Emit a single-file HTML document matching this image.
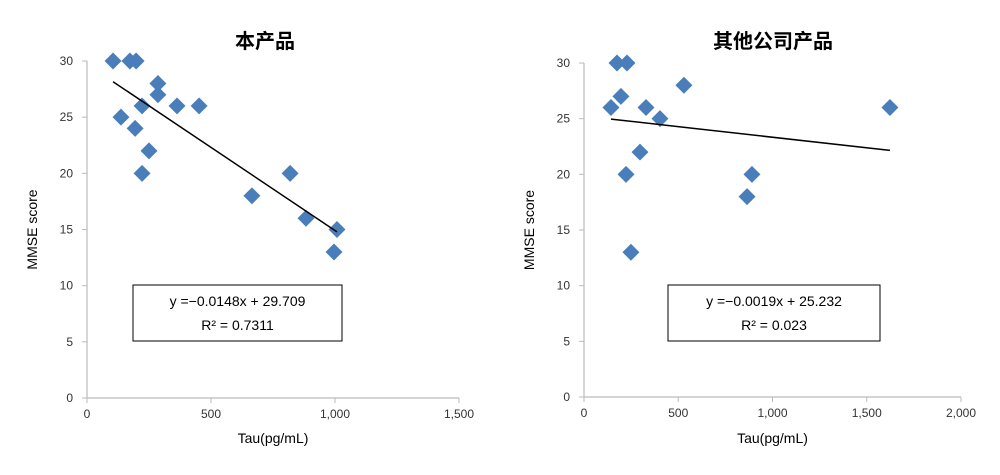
<!DOCTYPE html>
<html><head><meta charset="utf-8"><style>
body{margin:0;background:#fff;width:1000px;height:470px;overflow:hidden}
text{font-family:"Liberation Sans","Noto Sans CJK SC",sans-serif}
</style></head><body>
<svg id="s" width="1000" height="470"></svg>
<script>
const leftX=[105,173,198,137,194,222,286,286,250,222,363,452,665,819,883,1008,996];
const leftY=[30,30,30,25,24,26,28,27,22,20,26,26,18,20,16,15,13];
const rightX=[175,228,196,143,329,530,403,297,223,249,891,865,1623];
const rightY=[30,30,27,26,26,28,25,22,20,13,20,18,26];
const leftXTicks=[0,500,1000,1500];
const leftXLabels=["0","500","1,000","1,500"];
const rightXTicks=[0,500,1000,1500,2000];
const rightXLabels=["0","500","1,000","1,500","2,000"];
const yTicks=[0,5,10,15,20,25,30];
const leftFit=[-0.0148,29.709];
const rightFit=[-0.0019,25.232];
const NS="http://www.w3.org/2000/svg";
const svg=document.getElementById('s');
function mk(t,a,p){const e=document.createElementNS(NS,t);for(const k in a)e.setAttribute(k,a[k]);(p||svg).appendChild(e);return e;}
function chart(o){
 const g=mk('g',{});
 
 
 const sx=v=>o.x0+(v-0)/o.xmax*(o.x1-o.x0), sy=v=>o.y0-(v/30)*(o.y0-o.y1);
 const ax=mk('line',{x1:o.x0,y1:o.y0,x2:o.x1,y2:o.y0,stroke:'#bbb','stroke-width':1.2},g);
 
 const ay=mk('line',{x1:o.x0,y1:o.y0,x2:o.x0,y2:o.y1,stroke:'#bbb','stroke-width':1.2},g);
 
 yTicks.forEach(v=>{const y=sy(v);mk('line',{x1:o.x0-5,y1:y,x2:o.x0,y2:y,stroke:'#bbb'},g);
  const t=mk('text',{x:o.x0-14,y:y+4,'text-anchor':'end','font-size':12,fill:'#333'},g);t.textContent=v;
  });
 o.xt.forEach((v,i)=>{const x=sx(v);mk('line',{x1:x,y1:o.y0,x2:x,y2:o.y0+5,stroke:'#bbb'},g);
  const t=mk('text',{x:x,y:o.y0+20,'text-anchor':'middle','font-size':12,fill:'#333'},g);t.textContent=o.xl[i];
  });
 const ttl=mk('text',{x:o.tx,y:48,'text-anchor':'middle','font-size':20,'font-weight':'bold',fill:'#000'},g);ttl.textContent=o.title;
 
 const xl=mk('text',{x:(o.x0+o.x1)/2,y:443,'text-anchor':'middle','font-size':14,fill:'#000'},g);xl.textContent='Tau(pg/mL)';
 
 const yl=mk('text',{x:0,y:0,'text-anchor':'middle','font-size':14,fill:'#000',transform:`translate(${o.x0-50},${(o.y0+o.y1)/2}) rotate(-90)`},g);yl.textContent='MMSE score';
 
 o.xs.forEach((v,i)=>{const cx=sx(v),cy=sy(o.ys[i]);
  const p=mk('rect',{x:cx-6,y:cy-6,width:12,height:12,fill:'#4a7ebb',transform:`rotate(45 ${cx} ${cy})`},g);
  });
 const mn=Math.min(...o.xs),mx=Math.max(...o.xs);
 const tl=mk('line',{x1:sx(mn),y1:sy(o.fit[0]*mn+o.fit[1]),x2:sx(mx),y2:sy(o.fit[0]*mx+o.fit[1]),stroke:'#000','stroke-width':1.5},g);
 
 const bx=mk('rect',{x:o.bx,y:285,width:o.bw,height:56,fill:'#fff',stroke:'#000'},g);
 
 const e1=mk('text',{x:o.bx+o.bw/2,y:306,'text-anchor':'middle','font-size':14,fill:'#000'},g);e1.textContent=o.eq;
 
 const e2=mk('text',{x:o.bx+o.bw/2,y:330,'text-anchor':'middle','font-size':14,fill:'#000'},g);e2.textContent=o.r2;
 
}
chart({name:'left-chart',x0:87,x1:459,y0:398,y1:61,xmax:1500,xt:leftXTicks,xl:leftXLabels,xs:leftX,ys:leftY,fit:leftFit,title:'本产品',tx:265,bx:133,bw:209,eq:'y =−0.0148x + 29.709',r2:'R² = 0.7311'});
chart({name:'right-chart',x0:584,x1:961,y0:397,y1:63,xmax:2000,xt:rightXTicks,xl:rightXLabels,xs:rightX,ys:rightY,fit:rightFit,title:'其他公司产品',tx:773,bx:668,bw:212,eq:'y =−0.0019x + 25.232',r2:'R² = 0.023'});
</script></body></html>
